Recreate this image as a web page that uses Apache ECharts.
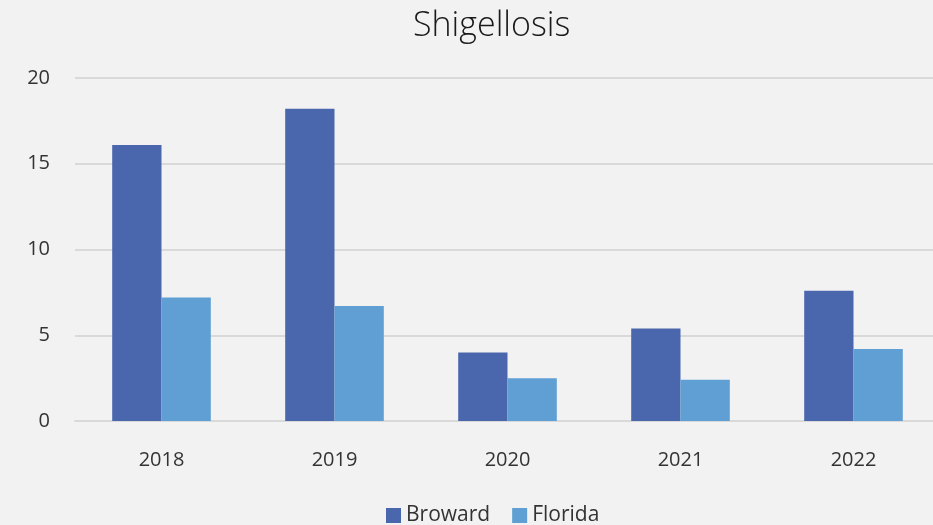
<!DOCTYPE html>
<html>
<head>
<meta charset="utf-8">
<script src="https://cdn.jsdelivr.net/npm/echarts@6/dist/echarts.min.js"></script>
<style>
html,body{margin:0;padding:0;background:#f2f2f2;}
#chart{width:933px;height:525px;}
</style>
</head>
<body>
<div id="chart"></div>
<script>
const years = ['2018', '2019', '2020', '2021', '2022'];
const broward = [16.1, 18.2, 4.0, 5.4, 7.6];
const florida = [7.2, 6.7, 2.5, 2.4, 4.2];

const chart = echarts.init(document.getElementById('chart'));
const font = '"Open Sans", "Noto Sans", sans-serif';
chart.setOption({
    backgroundColor: '#f2f2f2',
    animation: false,
    title: {
        text: 'Shigellosis',
        left: 408,
        top: 4,
        textStyle: {fontFamily: font, fontWeight: 300, fontSize: 34, color: '#1a1a1a'}
    },
    legend: {
        bottom: -6,
        left: 381,
        itemWidth: 15,
        itemHeight: 15,
        itemGap: 22,
        icon: 'rect',
        textStyle: {fontFamily: font, fontSize: 21, color: '#333'}
    },
    grid: {left: 75, top: 78, right: -7, height: 343, outerBoundsMode: 'none'},
    xAxis: {
        type: 'category',
        data: years,
        axisLine: {lineStyle: {color: '#d9d9d9', width: 2}},
        axisTick: {show: false},
        axisLabel: {fontFamily: font, fontSize: 20, color: '#333', margin: 29}
    },
    yAxis: {
        type: 'value',
        min: 0,
        max: 20,
        interval: 5,
        axisLine: {show: false},
        axisTick: {show: false},
        splitLine: {lineStyle: {color: '#d9d9d9', width: 2}},
        axisLabel: {fontFamily: font, fontSize: 20, color: '#333', margin: 25}
    },
    series: [
        {name: 'Broward', type: 'bar', data: broward, barWidth: '28.5%', barGap: '0%',
         itemStyle: {color: '#4a67ae'}},
        {name: 'Florida', type: 'bar', data: florida, barWidth: '28.5%',
         itemStyle: {color: '#5f9fd3'}}
    ]
});
</script>
</body>
</html>
